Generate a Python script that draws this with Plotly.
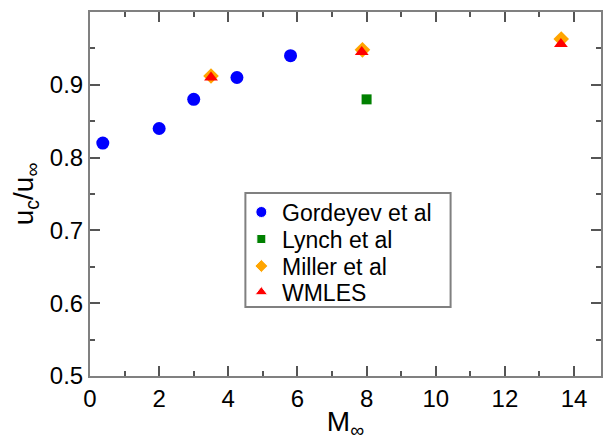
import plotly.graph_objects as go

# data
gordeyev_x = [0.37, 2.0, 3.0, 4.25, 5.8]
gordeyev_y = [0.82, 0.84, 0.88, 0.91, 0.94]
lynch_x = [8.0]
lynch_y = [0.88]
miller_x = [3.5, 7.88, 13.63]
miller_y = [0.912, 0.948, 0.963]
wmles_x = [3.5, 7.86, 13.62]
wmles_y = [0.91, 0.945, 0.956]

series_names = ["Gordeyev et al", "Lynch et al", "Miller et al", "WMLES"]
series_colors = ["#0000ff", "#008000", "#ffa500", "#ff0000"]
series_symbols = ["circle", "square", "diamond", "triangle-up"]
series_sizes = [13, 10, 12, 12]
legend_sizes = [11, 9, 10, 11]

FONT = "Liberation Sans, Arial, Helvetica, sans-serif"
AX = "#808080"

# plot area in pixels
W, H = 603, 441
L, R, T, B = 90, 0, 12, 65
PW, PH = W - L - R, H - T - B


def px2paper(px, py):
    return (px - L) / PW, (H - B - py) / PH


fig = go.Figure()
data = [(gordeyev_x, gordeyev_y), (lynch_x, lynch_y), (miller_x, miller_y), (wmles_x, wmles_y)]
for (xs, ys), name, col, sym, sz in zip(data, series_names, series_colors, series_symbols, series_sizes):
    fig.add_trace(go.Scatter(x=xs, y=ys, mode="markers", name=name, showlegend=False,
                             marker=dict(symbol=sym, size=sz, color=col, opacity=1)))

# custom legend (box, symbols, text) to match the reference's compact rows
box_x0, box_y0, box_x1, box_y1 = 246, 193, 452, 307
bx0, by1 = px2paper(box_x0, box_y0)
bx1, by0 = px2paper(box_x1, box_y1)
fig.add_shape(type="rect", xref="paper", yref="paper", x0=bx0, x1=bx1, y0=by0, y1=by1,
              line=dict(color=AX, width=2), fillcolor="white", layer="below")
row_py = [212, 239, 266, 292]
sym_px, text_px = 262, 281
lx, ly = [], []
for i, name in enumerate(series_names):
    xp, yp = px2paper(sym_px, row_py[i])
    lx.append(xp)
    ly.append(yp)
    tx, ty = px2paper(text_px, row_py[i] + 1)
    fig.add_annotation(x=tx, y=ty, xref="paper", yref="paper", text=name, showarrow=False,
                       xanchor="left", yanchor="middle",
                       font=dict(family=FONT, size=23, color="black"))
fig.add_trace(go.Scatter(x=lx, y=ly, xaxis="x2", yaxis="y2", mode="markers", showlegend=False,
                         hoverinfo="skip",
                         marker=dict(symbol=series_symbols, size=legend_sizes, color=series_colors,
                                     opacity=1)))

axis_common = dict(showgrid=False, zeroline=False, showline=True, linecolor=AX, linewidth=2,
                   mirror="allticks", ticks="inside", ticklen=10, tickwidth=1.5, tickcolor="#555555",
                   tickfont=dict(family=FONT, size=24, color="black"))

fig.update_layout(
    xaxis=dict(range=[0, 14.78], dtick=2, tick0=0,
               minor=dict(ticks="inside", ticklen=5, dtick=1, tickcolor="#555555", tickwidth=1.5),
               title=dict(text="M<sub>∞</sub>", font=dict(family=FONT, size=28, color="black"), standoff=0),
               **axis_common),
    yaxis=dict(range=[0.5, 1.0], dtick=0.1, tick0=0.5, tickformat=".1f",
               minor=dict(ticks="inside", ticklen=5, dtick=0.05, tickcolor="#555555", tickwidth=1.5),
               title=dict(text="u<sub>c</sub>/u<sub>∞</sub>", font=dict(family=FONT, size=28, color="black"), standoff=8),
               **axis_common),
    xaxis2=dict(overlaying="x", range=[0, 1], visible=False, fixedrange=True),
    yaxis2=dict(overlaying="y", range=[0, 1], visible=False, fixedrange=True),
    width=W, height=H,
    margin=dict(l=L, r=R, t=T, b=B),
    plot_bgcolor="white", paper_bgcolor="white",
    showlegend=False,
)

fig.write_html("out.html")
